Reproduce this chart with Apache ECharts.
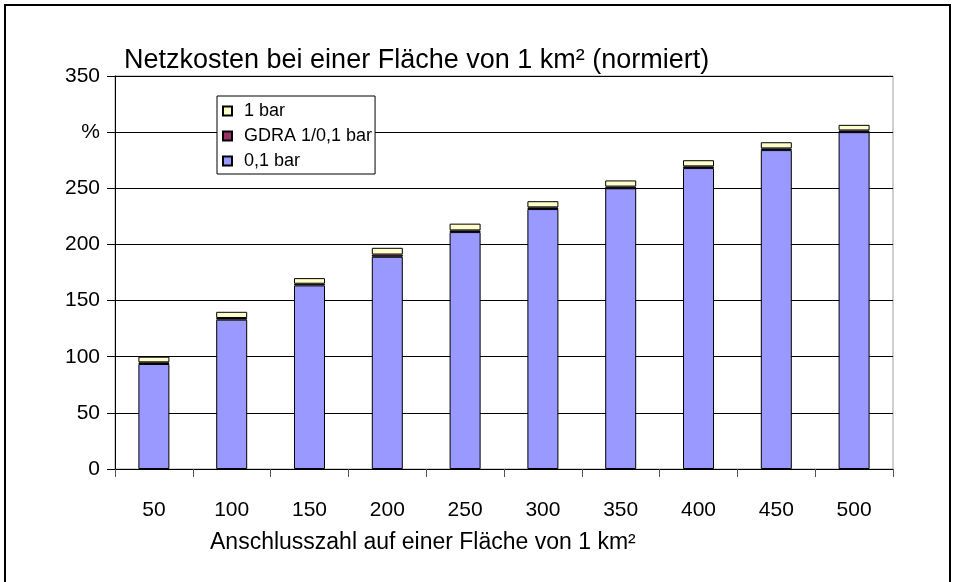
<!DOCTYPE html>
<html>
<head>
<meta charset="utf-8">
<script src="https://cdn.jsdelivr.net/npm/echarts@6/dist/echarts.min.js"></script>
<style>
  html, body { margin: 0; padding: 0; background: #fff; }
  #chart { width: 955px; height: 582px; }
</style>
</head>
<body>
<div id="chart"></div>
<script>
// Anschlusszahl (connections per km²)
const categories = ['50', '100', '150', '200', '250', '300', '350', '400', '450', '500'];
// Stacked cost shares in % (normalised)
const lowPressure = [93.5, 133, 163.5, 189, 211, 231.5, 250, 268, 284, 300];   // 0,1 bar
const gdra = [1.5, 1.5, 1.5, 2, 1.5, 1.5, 1.5, 1.5, 1.5, 1.5];                  // GDRA 1/0,1 bar
const highPressure = [5, 5.5, 5, 6, 6, 5.5, 5.5, 5.5, 5.5, 5];                  // 1 bar
// Y tick labels (300 is replaced by the unit sign)
const yTickLabels = { 0: '0', 50: '50', 100: '100', 150: '150', 200: '200', 250: '250', 300: '%', 350: '350' };

const FONT = 'Liberation Sans, Arial, sans-serif';
const chart = echarts.init(document.getElementById('chart'), null, { renderer: 'canvas' });

const barStyle = (color) => ({ color: color, borderColor: '#000', borderWidth: 1 });

chart.setOption({
  animation: false,
  backgroundColor: '#fff',
  textStyle: { fontFamily: FONT, color: '#000' },
  title: [
    {
      text: 'Netzkosten bei einer Fläche von 1 km² (normiert)',
      left: 124, top: 47,
      padding: 0,
      textStyle: { fontFamily: FONT, fontSize: 27, fontWeight: 'normal', color: '#000' }
    },
    {
      text: 'Anschlusszahl auf einer Fläche von 1 km²',
      left: 210, top: 531,
      padding: 0,
      textStyle: { fontFamily: FONT, fontSize: 23, fontWeight: 'normal', color: '#000' }
    }
  ],
  graphic: [
    {
      type: 'rect',
      shape: { x: 5, y: 5, width: 945, height: 640 },
      style: { fill: 'none', stroke: '#000', lineWidth: 2 },
      silent: true
    }
  ],
  legend: {
    orient: 'vertical',
    left: 217, top: 96,
    padding: [6, 3, 4, 5],
    itemGap: 7,
    itemWidth: 9, itemHeight: 9,
    backgroundColor: '#fff',
    borderColor: '#000', borderWidth: 1,
    icon: 'rect',
    textStyle: { fontFamily: FONT, fontSize: 18, color: '#000', padding: [0, 0, 0, 7] },
    data: ['1 bar', 'GDRA 1/0,1 bar', '0,1 bar']
  },
  grid: {
    left: 115, right: 62, top: 76, bottom: 113,
    show: true, borderColor: '#a0a0a0', borderWidth: 1, backgroundColor: '#fff'
  },
  xAxis: {
    type: 'category',
    data: categories,
    axisLine: { lineStyle: { color: '#000', width: 1 } },
    axisTick: { show: true, length: 8, lineStyle: { color: '#555' } },
    axisLabel: { margin: 31, fontFamily: FONT, fontSize: 21, color: '#000' },
    splitLine: { show: false }
  },
  yAxis: {
    type: 'value',
    min: 0, max: 350, interval: 50,
    axisLine: { show: true, lineStyle: { color: '#000', width: 1 } },
    axisTick: { show: true, length: 8, lineStyle: { color: '#000' } },
    axisLabel: {
      margin: 15, fontFamily: FONT, fontSize: 21, color: '#000',
      formatter: (v) => yTickLabels[v] !== undefined ? yTickLabels[v] : String(v)
    },
    splitLine: { show: true, lineStyle: { color: '#000', width: 1 } }
  },
  series: [
    {
      name: '0,1 bar', type: 'bar', stack: 'kosten', barWidth: 31,
      itemStyle: barStyle('#9999FF'), data: lowPressure
    },
    {
      name: 'GDRA 1/0,1 bar', type: 'bar', stack: 'kosten', barWidth: 31,
      itemStyle: barStyle('#993366'), data: gdra
    },
    {
      name: '1 bar', type: 'bar', stack: 'kosten', barWidth: 31,
      itemStyle: barStyle('#FFFFCC'), data: highPressure
    }
  ]
});
</script>
</body>
</html>
